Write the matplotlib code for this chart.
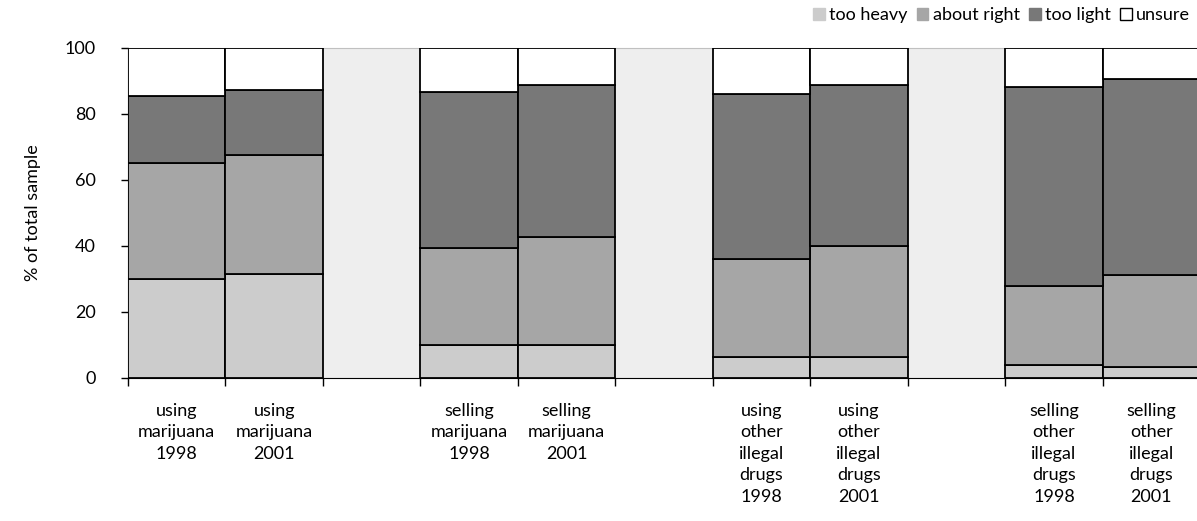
import matplotlib
matplotlib.use("Agg")
import matplotlib.pyplot as plt
from matplotlib.patches import Patch
import numpy as np

plt.rcParams['font.family'] = ['Lato', 'DejaVu Sans']

labels = ["using\nmarijuana\n1998", "using\nmarijuana\n2001", "",
          "selling\nmarijuana\n1998", "selling\nmarijuana\n2001", "",
          "using\nother\nillegal\ndrugs\n1998", "using\nother\nillegal\ndrugs\n2001", "",
          "selling\nother\nillegal\ndrugs\n1998", "selling\nother\nillegal\ndrugs\n2001"]
too_heavy   = [30.0, 31.6, 0, 10.1, 10.1, 0, 6.4, 6.3, 0, 3.9, 3.4]
about_right = [35.0, 36.0, 0, 29.4, 32.6, 0, 29.8, 33.6, 0, 24.1, 27.8]
too_light   = [20.5, 19.8, 0, 47.1, 46.2, 0, 50.0, 48.8, 0, 60.3, 59.4]
unsure      = [14.5, 12.6, 0, 13.4, 11.1, 0, 13.8, 11.3, 0, 11.7, 9.4]
series_names = ["too heavy", "about right", "too light", "unsure"]
colors = ["#cccccc", "#a6a6a6", "#787878", "#ffffff"]

fig = plt.figure(figsize=(11.97, 5.21), dpi=100)
ax = fig.add_axes([0.1069, 0.2745, 0.8957, 0.6334])
ax.set_facecolor("#eeeeee")

x = np.arange(len(labels))
real = np.array([l != "" for l in labels])
bottom = np.zeros(len(labels))
for vals, c in zip([too_heavy, about_right, too_light, unsure], colors):
    v = np.array(vals, dtype=float)
    ax.bar(x[real], v[real], bottom=bottom[real], width=1.0, color=c,
           edgecolor="black", linewidth=1.3, zorder=3)
    bottom += v

ax.set_xlim(-0.5, len(labels) - 0.5)
ax.set_ylim(0, 100)
ax.set_yticks([0, 20, 40, 60, 80, 100])
ax.tick_params(axis='y', length=5, width=1, labelsize=13, pad=18, colors='black')
ax.set_xticks(x)
ax.set_xticklabels(labels, fontsize=13, linespacing=1.42)
ax.tick_params(axis='x', which='major', length=0, pad=18)
ax.set_xticks(np.arange(-0.5, len(labels)), minor=True)
ax.tick_params(axis='x', which='minor', length=6, width=1, direction='out')

ax.spines['left'].set_color('black')
ax.spines['bottom'].set_color('black')
ax.spines['top'].set_color('#c0c0c0')
ax.spines['right'].set_visible(False)

ax.set_ylabel("% of total sample", fontsize=13, labelpad=17)

handles = [Patch(facecolor=c, edgecolor=("black" if c == "#ffffff" else c), linewidth=1)
           for c in colors]
fig.legend(handles, series_names, loc="upper right", bbox_to_anchor=(1.008, 1.018),
           ncol=4, frameon=False, fontsize=13, handlelength=0.65, handleheight=0.65,
           handletextpad=0.25, columnspacing=0.5)

fig.savefig("out.png", dpi=100)
